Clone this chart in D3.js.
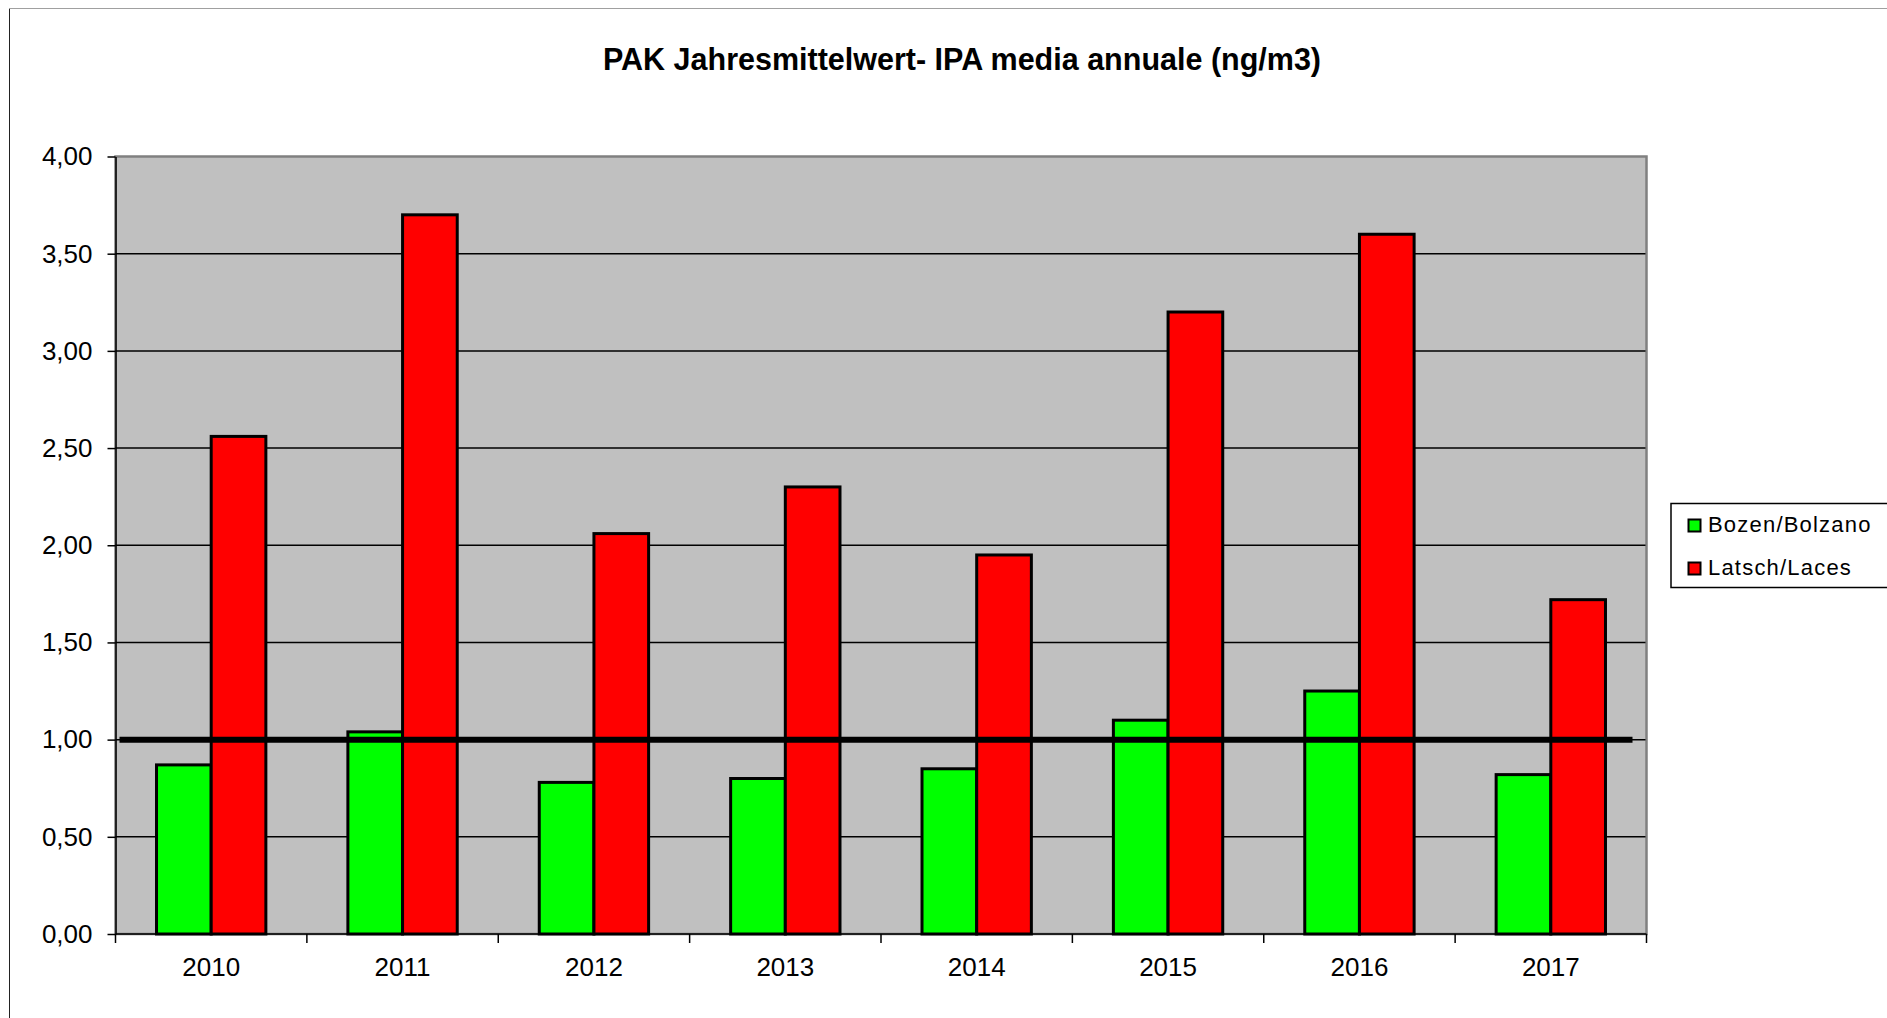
<!DOCTYPE html>
<html>
<head>
<meta charset="utf-8">
<script src="https://cdn.jsdelivr.net/npm/d3@7"></script>
<style>
  html, body { margin: 0; padding: 0; background: #fff; overflow: hidden; }
  svg { display: block; font-family: "Liberation Sans", Arial, sans-serif; }
</style>
</head>
<body>
<div id="chart"></div>
<script>
var width = 1887,
    height = 1018;

var title = "PAK Jahresmittelwert- IPA media annuale (ng/m3)";
var years = ["2010", "2011", "2012", "2013", "2014", "2015", "2016", "2017"];
var seriesNames = ["Bozen/Bolzano", "Latsch/Laces"];
var bozen = [0.87, 1.04, 0.78, 0.80, 0.85, 1.10, 1.25, 0.82];
var latsch = [2.56, 3.70, 2.06, 2.30, 1.95, 3.20, 3.60, 1.72];
var yTicks = [0, 0.5, 1, 1.5, 2, 2.5, 3, 3.5, 4];
var limit = 1.0;

var colors = ["#00ff00", "#ff0000"];

var plot = {left: 115.5, top: 156.5, right: 1646.5, bottom: 934};

var svg = d3.select("#chart").append("svg")
    .attr("width", width)
    .attr("height", height);

// outer chart frame (runs off right / bottom edge)
svg.append("line")
    .attr("x1", 9.5).attr("x2", 9.5).attr("y1", 8).attr("y2", height)
    .attr("stroke", "#222").attr("stroke-width", 1);
svg.append("line")
    .attr("x1", 9).attr("x2", width).attr("y1", 8.5).attr("y2", 8.5)
    .attr("stroke", "#a0a0a0").attr("stroke-width", 1);

svg.append("text")
    .attr("x", 962)
    .attr("y", 70)
    .attr("text-anchor", "middle")
    .style("font-size", "30.5px")
    .style("font-weight", "bold")
    .text(title);

var x = d3.scaleBand()
    .domain(years)
    .range([plot.left, plot.right]);

var y = d3.scaleLinear()
    .domain([0, 4])
    .range([plot.bottom, plot.top]);

var barW = x.bandwidth() / 3.5;

// plot background
svg.append("rect")
    .attr("x", plot.left)
    .attr("y", plot.top)
    .attr("width", plot.right - plot.left)
    .attr("height", plot.bottom - plot.top)
    .attr("fill", "#c0c0c0")
    .attr("stroke", "#808080")
    .attr("stroke-width", 2.5);

// gridlines
svg.append("g")
  .selectAll("line")
    .data(yTicks.filter(function(d) { return d > 0 && d < 4; }))
  .enter().append("line")
    .attr("x1", plot.left)
    .attr("x2", plot.right - 1)
    .attr("y1", function(d) { return y(d); })
    .attr("y2", function(d) { return y(d); })
    .attr("stroke", "#000")
    .attr("stroke-width", 1.5);

// bars
var groups = svg.append("g")
  .selectAll("g")
    .data(years)
  .enter().append("g");

groups.selectAll("rect")
    .data(function(d, i) { return [bozen[i], latsch[i]]; })
  .enter().append("rect")
    .attr("x", function(d, j) {
      var yr = d3.select(this.parentNode).datum();
      return x(yr) + x.bandwidth() / 2 - barW + j * barW;
    })
    .attr("y", function(d) { return y(d); })
    .attr("width", barW)
    .attr("height", function(d) { return y(0) - y(d); })
    .attr("fill", function(d, j) { return colors[j]; })
    .attr("stroke", "#000")
    .attr("stroke-width", 3);

// limit line at 1,00
svg.append("line")
    .attr("x1", plot.left + 4)
    .attr("x2", plot.right - 14)
    .attr("y1", y(limit))
    .attr("y2", y(limit))
    .attr("stroke", "#000")
    .attr("stroke-width", 6);

// y axis
var yAxis = d3.axisLeft(y)
    .tickValues(yTicks)
    .tickSize(8)
    .tickSizeOuter(0)
    .tickPadding(15)
    .tickFormat(function(d) { return d3.format(".2f")(d).replace(".", ","); });

var gy = svg.append("g")
    .attr("transform", "translate(" + plot.left + ",0)")
    .call(yAxis);
gy.select(".domain").attr("stroke", "#000").attr("stroke-width", 1.5);
gy.selectAll(".tick line").attr("stroke", "#000").attr("stroke-width", 1.5);
gy.selectAll(".tick text")
    .attr("fill", "#000")
    .style("font-size", "26px")
    .style("font-family", "'Liberation Sans', Arial, sans-serif");

// x axis
var xAxis = d3.axisBottom(x)
    .tickSize(0)
    .tickPadding(24);

var gx = svg.append("g")
    .attr("transform", "translate(0," + plot.bottom + ")")
    .call(xAxis);
gx.select(".domain").remove();
gx.selectAll(".tick text")
    .attr("fill", "#000")
    .style("font-size", "26px")
    .style("font-family", "'Liberation Sans', Arial, sans-serif");

svg.append("line")
    .attr("x1", plot.left)
    .attr("x2", plot.right)
    .attr("y1", plot.bottom)
    .attr("y2", plot.bottom)
    .attr("stroke", "#000")
    .attr("stroke-width", 1.5);

svg.append("g")
  .selectAll("line")
    .data(years.concat(["end"]))
  .enter().append("line")
    .attr("x1", function(d) { return d === "end" ? plot.right : x(d); })
    .attr("x2", function(d) { return d === "end" ? plot.right : x(d); })
    .attr("y1", plot.bottom)
    .attr("y2", plot.bottom + 9)
    .attr("stroke", "#000")
    .attr("stroke-width", 1.5);

// legend
var legend = svg.append("g");
legend.append("rect")
    .attr("x", 1671)
    .attr("y", 503.5)
    .attr("width", 240)
    .attr("height", 84)
    .attr("fill", "#fff")
    .attr("stroke", "#000")
    .attr("stroke-width", 1.5);

var items = legend.selectAll("g.item")
    .data(seriesNames)
  .enter().append("g")
    .attr("class", "item")
    .attr("transform", function(d, i) { return "translate(1688," + (519 + i * 43) + ")"; });

items.append("rect")
    .attr("x", 0.5)
    .attr("y", 0.5)
    .attr("width", 12)
    .attr("height", 12)
    .attr("fill", function(d, i) { return colors[i]; })
    .attr("stroke", "#000")
    .attr("stroke-width", 2);

items.append("text")
    .attr("x", 20)
    .attr("y", 13)
    .style("font-size", "22px")
    .style("letter-spacing", "1.2px")
    .text(function(d) { return d; });
</script>
</body>
</html>
